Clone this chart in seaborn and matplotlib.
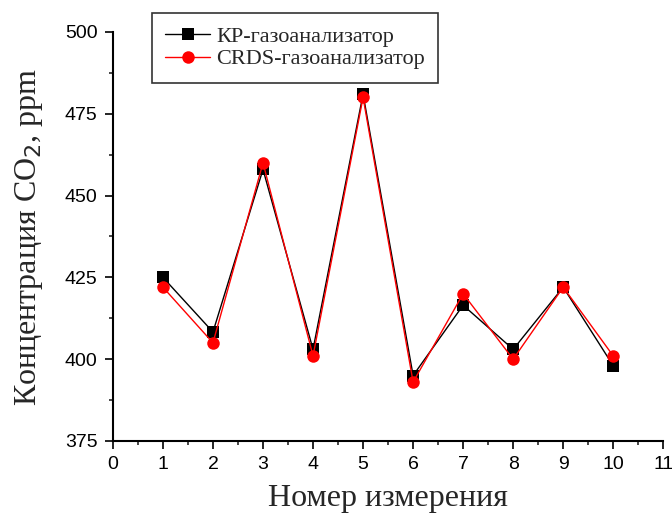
import pandas as pd
import seaborn as sns
import matplotlib.pyplot as plt
from matplotlib.ticker import MultipleLocator

measurement = [1, 2, 3, 4, 5, 6, 7, 8, 9, 10]
kr_values = [425, 408.3, 458, 403, 481, 395, 416.5, 403, 422, 398]
crds_values = [422, 405, 460, 401, 480, 393, 420, 400, 422, 401]

series_kr = "КР-газоанализатор"
series_crds = "CRDS-газоанализатор"

df = pd.concat([
    pd.DataFrame({"n": measurement, "co2": kr_values, "device": series_kr}),
    pd.DataFrame({"n": measurement, "co2": crds_values, "device": series_crds}),
])

sns.set_theme(style="ticks")
plt.rcParams["font.family"] = ["Liberation Sans", "DejaVu Sans"]

fig = plt.figure(figsize=(6.72, 5.21), dpi=100)
ax = fig.add_axes([0.168, 0.1536, 0.819, 0.785])

sns.lineplot(
    data=df, x="n", y="co2", hue="device", style="device",
    palette={series_kr: "black", series_crds: "red"},
    markers={series_kr: "s", series_crds: "o"},
    dashes=False, markersize=9, markeredgewidth=0, linewidth=1,
    ax=ax,
)

ax.set_xlim(0, 11)
ax.set_ylim(375, 500)
ax.xaxis.set_major_locator(MultipleLocator(1))
ax.xaxis.set_minor_locator(MultipleLocator(0.5))
ax.yaxis.set_major_locator(MultipleLocator(25))
ax.yaxis.set_minor_locator(MultipleLocator(12.5))
ax.tick_params(which="major", direction="out", length=6, width=1.2,
               labelsize=14, colors="black", pad=5)
ax.tick_params(which="minor", direction="out", length=3, width=1.2)
for s in ["left", "bottom"]:
    ax.spines[s].set_linewidth(1.5)
    ax.spines[s].set_color("black")
sns.despine(ax=ax)

serif = ["Liberation Serif", "DejaVu Serif"]
ax.set_xlabel("Номер измерения", fontsize=23, family=serif, labelpad=8)
ax.set_ylabel("Концентрация CO$_2$, ppm", fontsize=23, family=serif, labelpad=14)

leg = ax.legend(
    loc="upper left", bbox_to_anchor=(0.071, 1.047), borderaxespad=0,
    frameon=True, fancybox=False, edgecolor="black", handlelength=2.0,
    handletextpad=0.3, prop={"family": serif, "size": 16},
    borderpad=0.6, labelspacing=0.1,
)
leg.get_frame().set_linewidth(1.2)

fig.savefig("out.png", dpi=100)
